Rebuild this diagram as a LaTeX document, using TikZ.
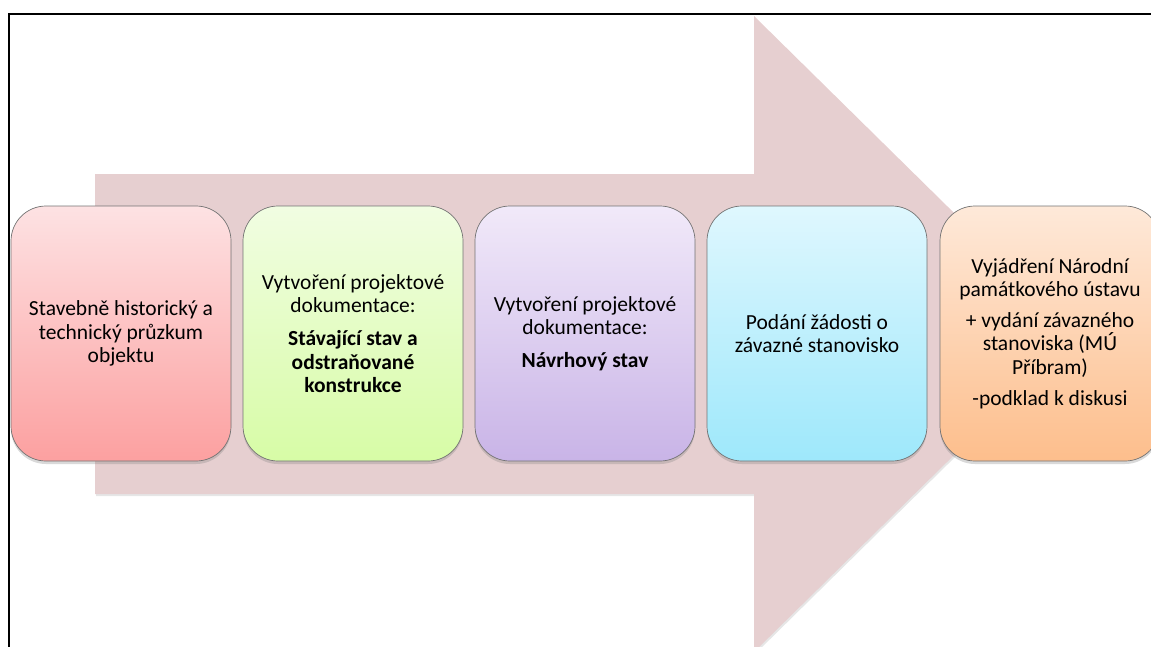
\documentclass[tikz,border=0pt]{standalone}
\usepackage{fontspec}
\setmainfont{Carlito}
\usetikzlibrary{shadows}

\definecolor{arrowfill}{RGB}{230,207,208}
\definecolor{redtop}{RGB}{253,226,227}
\definecolor{redbot}{RGB}{252,160,160}
\definecolor{greentop}{RGB}{241,253,226}
\definecolor{greenbot}{RGB}{215,252,166}
\definecolor{violettop}{RGB}{241,233,249}
\definecolor{violetbot}{RGB}{201,180,231}
\definecolor{cyantop}{RGB}{223,247,254}
\definecolor{cyanbot}{RGB}{158,232,251}
\definecolor{orangetop}{RGB}{254,233,217}
\definecolor{orangebot}{RGB}{253,190,140}

\tikzset{
    stage/.style={rounded corners=35pt, draw=black!55, line width=0.7pt,
        minimum width=220pt, minimum height=255pt, align=center,
        font=\fontsize{21.5}{23.2}\selectfont,
        drop shadow={shadow xshift=0pt, shadow yshift=-3pt, opacity=0.3}},
}

\begin{document}
\begin{tikzpicture}[x=1pt, y=-1pt]
        \useasboundingbox (0,0) rectangle (1151,646);
        \clip (0,0) rectangle (1151,646);

        % Big arrow behind the steps
        \fill[arrowfill, drop shadow={shadow xshift=1pt, shadow yshift=-2pt, opacity=0.2}]
            (95,174) -- (754,174) -- (754,16) -- (1077,334)
            -- (754,652) -- (754,494) -- (95,494) -- cycle;

        % Steps
        \node[stage, top color=redtop, bottom color=redbot] (s1) at (121,333.5)
            {Stavebně historický a\\ technický průzkum\\ objektu};
        \node[stage, top color=greentop, bottom color=greenbot] (s2) at (353,333.5)
            {Vytvoření projektové\\ dokumentace:\\[10pt]
             \textbf{Stávající stav a}\\ \textbf{odstraňované}\\ \textbf{konstrukce}};
        \node[stage, top color=violettop, bottom color=violetbot] (s3) at (585,333.5)
            {Vytvoření projektové\\ dokumentace:\\[10pt] \textbf{Návrhový stav}};
        \node[stage, top color=cyantop, bottom color=cyanbot] (s4) at (817,333.5)
            {Podání žádosti o\\ závazné stanovisko};
        \node[stage, top color=orangetop, bottom color=orangebot] (s5) at (1050,333.5)
            {Vyjádření Národní\\ památkového ústavu\\[8pt] + vydání závazného\\
             stanoviska (MÚ\\ Příbram)\\[8pt] -podklad k diskusi};

        % Frame
        \draw[line width=2.5pt] (9,680) -- (9,14) -- (1170,14);
\end{tikzpicture}
\end{document}
